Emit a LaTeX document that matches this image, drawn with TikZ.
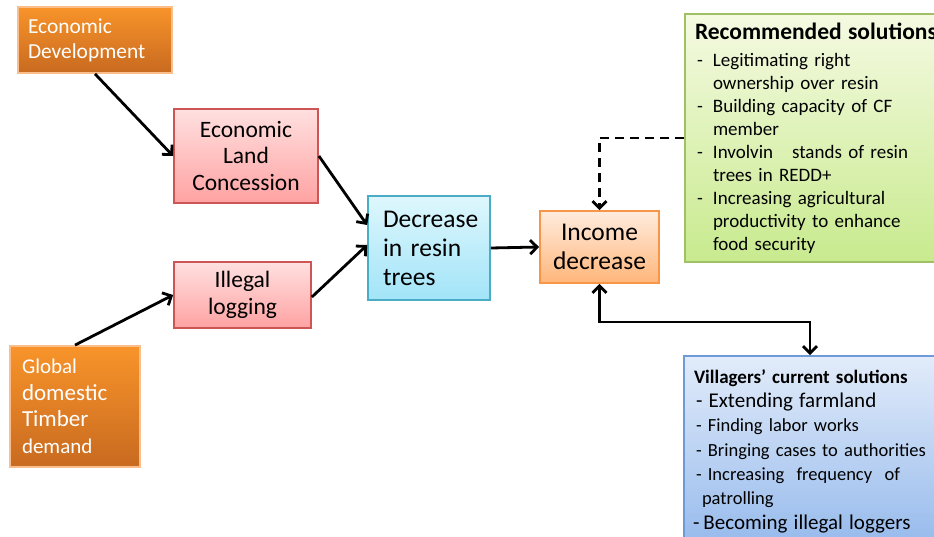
\documentclass[tikz,border=0pt]{standalone}
\usepackage{fontspec}
\setmainfont{Carlito}
\usetikzlibrary{arrows.meta}

\definecolor{drvtop}{RGB}{248,148,42}
\definecolor{drvbot}{RGB}{200,106,32}
\definecolor{drvedge}{RGB}{250,190,140}
\definecolor{midtop}{RGB}{255,224,224}
\definecolor{midbot}{RGB}{255,162,162}
\definecolor{midedge}{RGB}{205,85,85}
\definecolor{restop}{RGB}{222,247,253}
\definecolor{resbot}{RGB}{162,228,248}
\definecolor{resedge}{RGB}{75,172,198}
\definecolor{inctop}{RGB}{255,236,222}
\definecolor{incbot}{RGB}{255,182,122}
\definecolor{incedge}{RGB}{247,150,70}
\definecolor{rectop}{RGB}{245,250,226}
\definecolor{recbot}{RGB}{200,234,142}
\definecolor{recedge}{RGB}{160,192,100}
\definecolor{viltop}{RGB}{226,236,250}
\definecolor{vilbot}{RGB}{150,186,236}
\definecolor{viledge}{RGB}{110,155,215}

\tikzset{
  box/.style={rectangle, line width=1.8pt, inner sep=0pt},
  driver/.style={box, draw=drvedge, top color=drvtop, bottom color=drvbot, text=white, align=left},
  factor/.style={box, draw=midedge, top color=midtop, bottom color=midbot, align=center, font=\fontsize{23.5}{26.5}\selectfont},
  solbox/.style={box, align=left},
  link/.style={line width=2.8pt, ->},
}

\newcommand{\dashitem}[1]{\makebox[18pt][l]{\hspace{2pt}-}#1}
\newcommand{\hangline}[1]{\hspace*{18pt}#1}

\begin{document}
\begin{tikzpicture}[x=1pt, y=-1pt, >={Straight Barb[length=7pt,width=14pt]}]

\useasboundingbox (0,0) rectangle (934,537);
\clip (0,0) rectangle (934,537);

% driving causes
\node[driver, minimum width=154, minimum height=66, text width=134,
      font=\fontsize{21.4}{25}\selectfont] (ecdev) at (95,40) {Economic\\Development};
\node[driver, minimum width=130, minimum height=121, text width=106,
      font=\fontsize{21}{26.5}\selectfont] (timber) at (75,406.5)
  {Global\\{\fontsize{23}{26.5}\selectfont domestic}\\{\fontsize{23}{26.5}\selectfont Timber}\\demand};

% intermediate causes
\node[factor, minimum width=144, minimum height=94] (elc) at (246,156) {Economic\\Land\\Concession};
\node[factor, minimum width=137, minimum height=66] (illegal) at (242.5,295) {Illegal\\logging};

% effects
\node[box, draw=resedge, top color=restop, bottom color=resbot, minimum width=122, minimum height=104,
      text width=92, align=left, font=\fontsize{25.5}{29}\selectfont] (resin) at (429,248) {Decrease\\in resin\\trees};
\node[box, draw=incedge, top color=inctop, bottom color=incbot, minimum width=119, minimum height=72,
      align=center, font=\fontsize{25.5}{29}\selectfont] (income) at (599.5,247) {Income\\decrease};

% solutions
\node[solbox, draw=recedge, top color=rectop, bottom color=recbot, minimum width=260, minimum height=248,
      text width=240, font=\fontsize{19}{23}\selectfont] (recom) at (815,138)
  {\mbox{\fontsize{23.5}{23}\selectfont\bfseries Recommended solutions}\\[4pt]
   \dashitem{Legitimating right}\\
   \hangline{ownership over resin}\\
   \dashitem{Building capacity of CF}\\
   \hangline{member}\\
   \dashitem{Involvin\ \ \ stands of resin}\\
   \hangline{trees in REDD+}\\
   \dashitem{Increasing agricultural}\\
   \hangline{productivity to enhance}\\
   \hangline{food security}};

\node[solbox, draw=viledge, top color=viltop, bottom color=vilbot, minimum width=252, minimum height=190,
      text width=232, font=\fontsize{18.5}{24.3}\selectfont] (village) at (810,451)
  {{\fontsize{19}{24.3}\selectfont\bfseries Villagers’ current solutions}\\
   {\fontsize{21}{24.3}\selectfont\hspace{2pt}-\ Extending farmland}\\
   \hspace{2pt}-\ Finding labor works\\
   \hspace{2pt}-\ Bringing cases to authorities\\
   \hspace{2pt}-\ Increasing\ \ frequency\ \ of\\
   \hspace*{8pt}patrolling\\
   {\fontsize{21}{24.3}\selectfont\hspace{-1pt}-\hspace{4pt}Becoming illegal loggers}};

% connectors
\draw[link] (ecdev.south) -- (elc.west);
\draw[link] (timber.north) -- (illegal.west);
\draw[link] (elc.east) -- ([yshift=23pt]resin.west);
\draw[link] ([yshift=-2pt]illegal.east) -- ([yshift=3pt]resin.west);
\draw[link] (resin.east) -- (income.west);
\draw[link, dash pattern=on 9pt off 6pt] (recom.west) -| (income.north);
\draw[link, <->] (income.south) -- ++(0,38) -| (village.north);

\end{tikzpicture}
\end{document}
